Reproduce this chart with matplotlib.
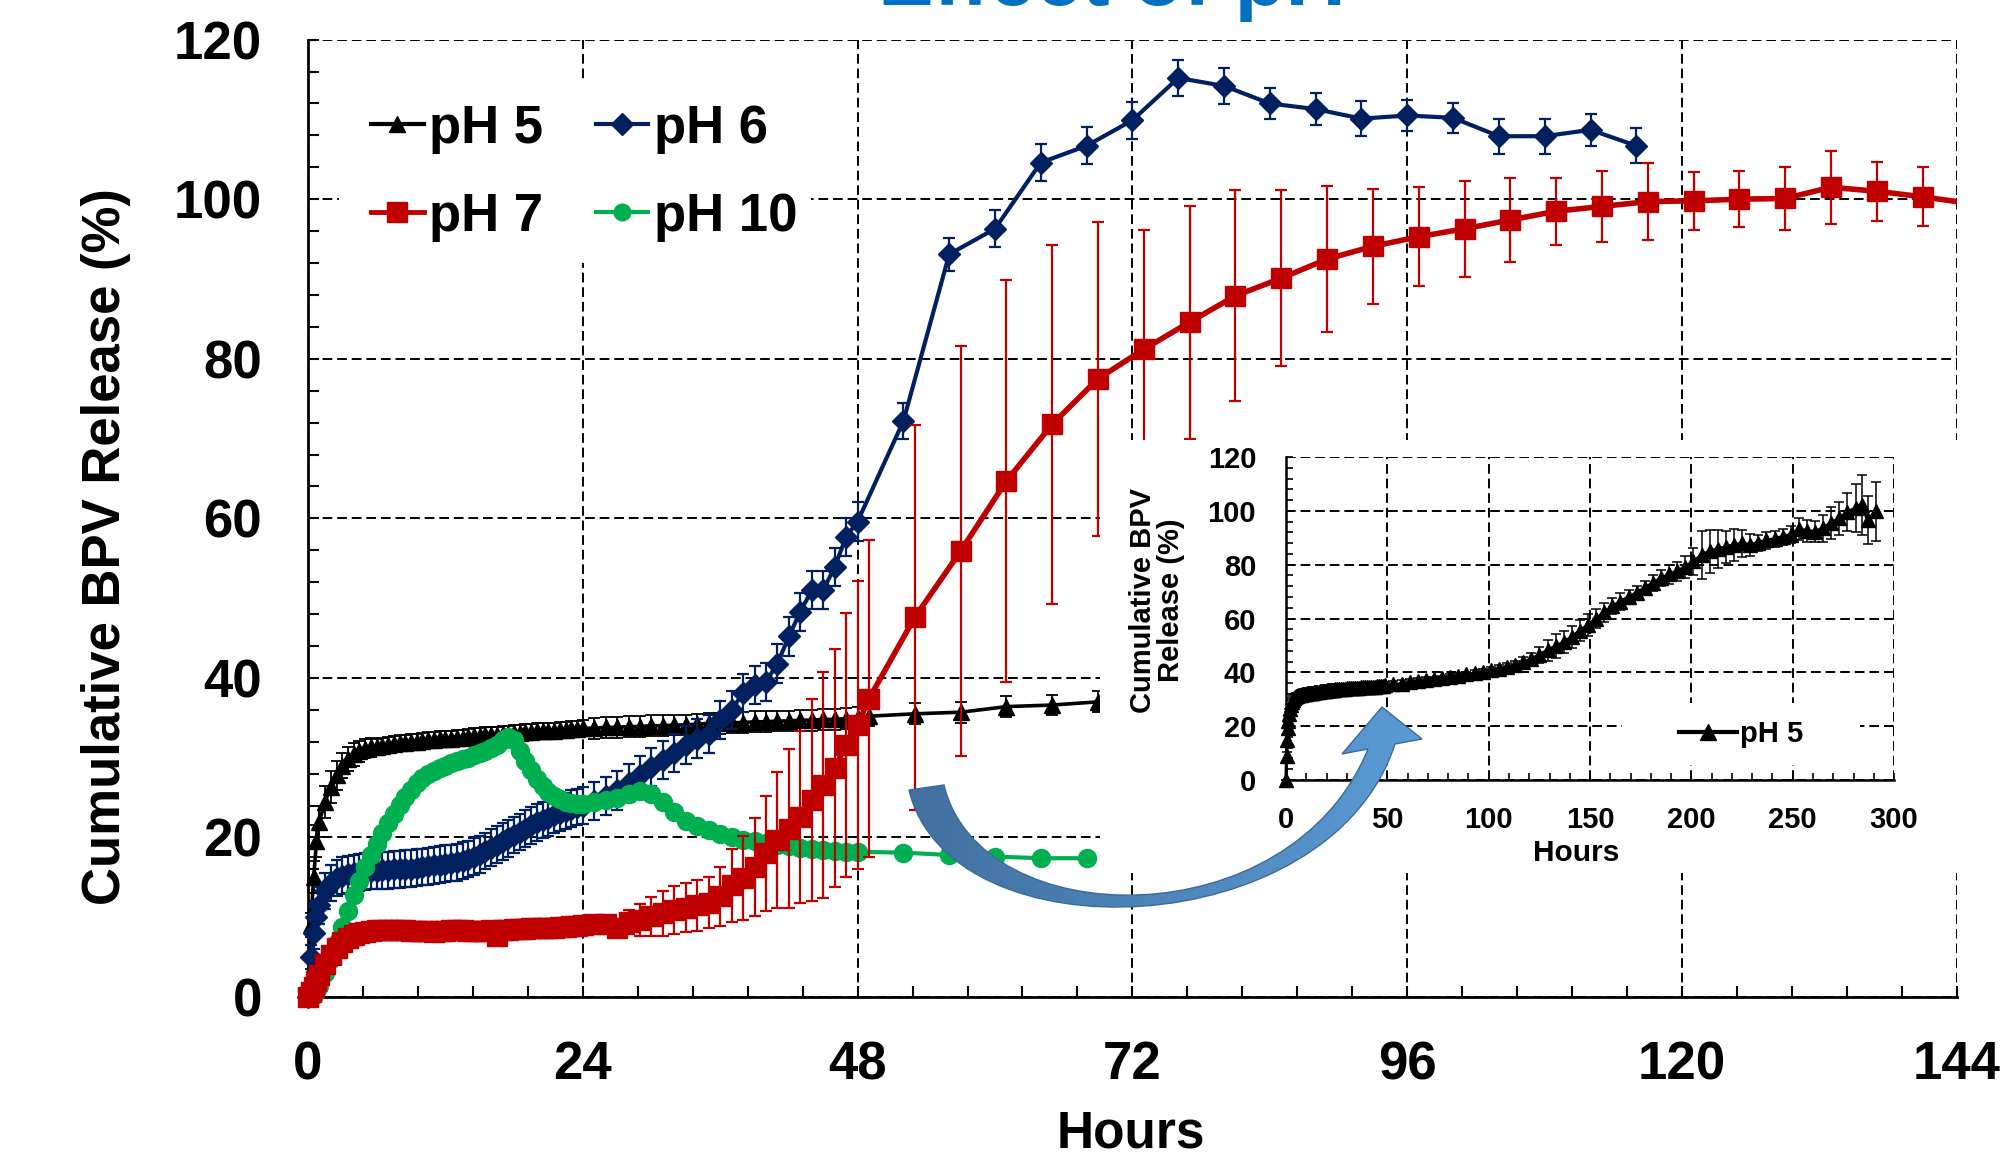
import numpy as np
import matplotlib
matplotlib.use('Agg')
import matplotlib.pyplot as plt
from matplotlib.lines import Line2D
from matplotlib.patches import Rectangle, PathPatch
from matplotlib.path import Path
from matplotlib.colors import LinearSegmentedColormap
from matplotlib.ticker import MultipleLocator

plt.rcParams['font.family'] = ['Liberation Sans', 'DejaVu Sans']
plt.rcParams['font.weight'] = 'bold'
plt.rcParams['axes.labelweight'] = 'bold'

# sampling times, 0-48 h (shared by all four runs)
hours = [0, 0.25, 0.5, 0.75,
         1, 1.5, 2, 2.5, 3, 3.5, 4, 4.5, 5, 5.5,
         6, 6.5, 7, 7.5, 8, 8.5, 9, 9.5, 10, 10.5,
         11, 11.5, 12, 12.5, 13, 13.5, 14, 14.5, 15, 15.5,
         16, 16.5, 17, 17.5, 18, 18.5, 19, 19.5, 20, 20.5,
         21, 21.5, 22, 22.5, 23, 23.5, 24,
         25, 26, 27, 28, 29, 30, 31, 32, 33, 34,
         35, 36, 37, 38, 39, 40, 41, 42, 43, 44,
         45, 46, 47, 48]

ph5 = [0, 9, 15, 19.5,
       22, 24.5, 26.3, 27.8, 29.0, 29.8, 30.4, 30.8, 31.1, 31.3,
       31.4, 31.5, 31.6, 31.7, 31.8, 31.9, 32.0, 32.0, 32.1, 32.2,
       32.2, 32.3, 32.4, 32.4, 32.5, 32.5, 32.6, 32.7, 32.7, 32.8,
       32.8, 32.9, 33.0, 33.0, 33.1, 33.1, 33.2, 33.2, 33.3, 33.3,
       33.4, 33.4, 33.5, 33.5, 33.6, 33.6, 33.7,
       33.7, 33.8, 33.8, 33.9, 33.9, 34.0, 34.0, 34.1, 34.1, 34.2,
       34.3, 34.3, 34.4, 34.4, 34.5, 34.5, 34.6, 34.6, 34.7, 34.7,
       34.8, 34.8, 34.9, 35.0]
ph5_err = [0, 1.5, 2, 2,
           2, 2, 2, 1.8, 1.6, 1.5, 1.4, 1.3, 1.2, 1.2,
           1.0, 1.0, 1.0, 1.0, 1.0, 1.0, 1.0, 1.0, 1.0, 1.0,
           1.0, 1.0, 1.0, 1.0, 1.0, 1.0, 1.0, 1.0, 1.0, 1.0,
           1.0, 1.0, 1.0, 1.0, 1.0, 1.0, 1.0, 1.0, 1.0, 1.0,
           1.0, 1.0, 1.0, 1.0, 1.0, 1.0, 1.0,
           1.3, 1.3, 1.3, 1.3, 1.3, 1.3, 1.3, 1.3, 1.3, 1.3,
           1.3, 1.3, 1.3, 1.3, 1.3, 1.3, 1.3, 1.3, 1.3, 1.3,
           1.3, 1.3, 1.3, 1.3]

ph6 = [0, 5, 8, 10,
       11.5, 13.3, 14.3, 14.9, 15.2, 15.4, 15.5, 15.6, 15.7, 15.8,
       15.8, 15.9, 15.9, 16.0, 16.0, 16.1, 16.1, 16.2, 16.3, 16.4,
       16.5, 16.6, 16.7, 16.8, 16.9, 17.1, 17.3, 17.6, 17.9, 18.3,
       18.7, 19.1, 19.5, 19.9, 20.3, 20.7, 21.1, 21.5, 21.9, 22.2,
       22.5, 22.8, 23.1, 23.3, 23.6, 23.8, 24.0,
       24.6, 25.2, 25.9, 26.8, 27.8, 28.8, 29.7, 30.6, 31.6, 32.4,
       33.0, 34.7, 36.0, 38.1, 39.1, 39.5, 41.8, 45.2, 48.3, 51.0,
       51.0, 53.9, 57.7, 59.6]
ph6_err = [0, 1.5, 2, 2,
           2.3, 2.3, 2.3, 2.3, 2.3, 2.3, 2.3, 2.3, 2.3, 2.3,
           2.3, 2.3, 2.3, 2.3, 2.3, 2.3, 2.3, 2.3, 2.3, 2.3,
           2.3, 2.3, 2.3, 2.3, 2.3, 2.3, 2.3, 2.3, 2.3, 2.3,
           2.3, 2.3, 2.3, 2.3, 2.3, 2.3, 2.3, 2.3, 2.3, 2.3,
           2.3, 2.3, 2.3, 2.3, 2.3, 2.3, 2.3,
           2.4, 2.4, 2.4, 2.4, 2.4, 2.4, 2.4, 2.4, 2.4, 2.4,
           2.4, 2.4, 2.4, 2.4, 2.4, 2.4, 2.4, 2.4, 2.4, 2.4,
           2.4, 2.4, 2.4, 2.4]

ph7 = [0, 0.6, 1.3, 2.0,
       2.8, 4.2, 5.3, 6.2, 6.9, 7.4, 7.8, 8.0, 8.2, 8.3,
       8.4, 8.4, 8.4, 8.4, 8.4, 8.4, 8.3, 8.3, 8.3, 8.3,
       8.2, 8.3, 8.3, 8.4, 8.4, 8.4, 8.3, 8.3, 8.3, 8.3,
       8.4, 7.6, 8.4, 8.4, 8.5, 8.5, 8.5, 8.6, 8.6, 8.6,
       8.7, 8.7, 8.8, 8.8, 8.9, 8.9, 9.0,
       9.1, 9.2, 8.6, 9.4, 9.7, 10.1, 10.5, 10.9, 11.2, 11.5,
       11.8, 12.6, 14.0, 14.9, 16.3, 18.0, 19.7, 21.1, 22.6, 24.7,
       26.6, 28.7, 31.6, 34.1]
ph7_err = [0, 0.4, 0.5, 0.5,
           0.6, 0.6, 0.6, 0.6, 0.6, 0.6, 0.6, 0.6, 0.6, 0.6,
           0.6, 0.6, 0.6, 0.6, 0.6, 0.6, 0.6, 0.6, 0.6, 0.6,
           0.6, 0.6, 0.6, 0.6, 0.6, 0.6, 0.6, 0.6, 0.6, 0.6,
           0.6, 0.6, 0.6, 0.6, 0.6, 0.6, 0.6, 0.6, 0.6, 0.6,
           0.6, 0.6, 0.6, 0.6, 0.6, 0.6, 0.6,
           0.8, 0.8, 1.0, 1.5, 2.0, 2.4, 2.8, 3.0, 3.1, 3.2,
           3.2, 3.75, 4.6, 5.3, 6.1, 7.2, 8.5, 10.0, 10.8, 12.7,
           14.2, 14.9, 16.5, 18.1]

ph10 = [0, 0, 0.3, 0.8,
        1.4, 3.0, 4.8, 6.8, 8.8, 10.8, 12.8, 14.6, 16.3, 17.8,
        19.2, 20.5, 21.8, 23.0, 24.1, 25.1, 26.0, 26.8, 27.4, 27.9,
        28.3, 28.7, 29.0, 29.3, 29.6, 29.8, 30.0, 30.3, 30.6, 30.9,
        31.2, 31.6, 32.2, 32.6, 32.2, 30.8, 29.6, 28.4, 27.3, 26.4,
        25.7, 25.2, 24.8, 24.5, 24.3, 24.2, 24.2,
        24.4, 24.7, 25.0, 25.4, 25.8, 25.5, 24.5, 23.2, 22.1, 21.4,
        20.9, 20.4, 20.0, 19.7, 19.5, 19.3, 19.1, 18.9, 18.7, 18.5,
        18.4, 18.3, 18.2, 18.2]

# later, sparser sampling
ph5_late_h = [49, 53, 57, 61, 65, 69]
ph5_late = [35.2, 35.5, 35.7, 36.4, 36.6, 37.0]
ph5_late_err = [1.2, 1.3, 1.3, 1.3, 1.3, 1.3]

ph6_late_h = [52, 56, 60, 64, 68, 72, 76, 80, 84, 88, 92, 96, 100, 104, 108, 112, 116]
ph6_late = [72.2, 93.1, 96.3, 104.6, 106.7, 109.9, 115.2, 114.2, 112.0, 111.3,
            110.1, 110.5, 110.2, 107.9, 107.9, 108.7, 106.7]
ph6_late_err = [2.2, 2.1, 2.3, 2.3, 2.3, 2.3, 2.2, 2.3, 2.0, 2.0,
                2.2, 2.0, 1.9, 2.2, 2.2, 2.0, 2.2]

ph7_late_h = [49, 53, 57, 61, 65, 69, 73, 77, 81, 85, 89, 93, 97, 101, 105,
              109, 113, 117, 121, 125, 129, 133, 137, 141, 145]
ph7_late = [37.4, 47.6, 55.9, 64.7, 71.8, 77.5, 81.2, 84.6, 87.9, 90.1, 92.5, 94.1,
            95.3, 96.3, 97.4, 98.5, 99.1, 99.7, 99.8, 100.0, 100.1, 101.5, 101.0,
            100.3, 99.5]
ph7_late_err = [19.9, 24.1, 25.7, 25.2, 22.5, 19.7, 15.0, 14.6, 13.2, 11.0, 9.2, 7.2,
                6.2, 6.0, 5.3, 4.2, 4.5, 4.8, 3.6, 3.5, 4.0, 4.6, 3.7, 3.7, 3.7]

ph10_late_h = [52, 56, 60, 64, 68]
ph10_late = [18.1, 17.8, 17.6, 17.4, 17.4]

# inset: pH 5 continued up to ~290 h
inset_h = [73, 77, 81, 85, 89, 93, 97, 101, 105, 109,
           113, 117, 121, 125, 129, 133, 137, 141, 145, 149,
           153, 157, 161, 165, 169, 173, 177, 181, 185, 189,
           193, 197, 201, 205, 209, 213, 217, 221, 225, 229,
           233, 237, 241, 245, 249, 253, 257, 261, 265, 269,
           273, 277, 281, 284, 287, 291]
inset_v = [37.4, 37.8, 38.3, 38.7, 39.2, 39.6, 40.1, 40.7, 41.3, 42.0,
           42.8, 43.7, 45.0, 46.5, 48.2, 49.7, 51.2, 53.2, 55.5, 57.6,
           60.0, 62.3, 64.5, 66.3, 68.0, 69.6, 71.4, 73.2, 75.0, 76.4,
           77.6, 79.2, 81.2, 83.6, 85.0, 85.9, 86.6, 87.4, 88.0, 87.4,
           88.2, 89.0, 89.6, 90.4, 91.2, 93.3, 92.6, 92.3, 93.6, 95.6,
           97.2, 99.6, 101.0, 102.2, 96.6, 99.8]
inset_err = [1.0, 1.0, 1.0, 1.0, 1.0, 1.2, 1.2, 1.3, 1.5, 1.5,
             1.5, 2.0, 2.0, 3.0, 4.0, 4.5, 4.0, 4.0, 4.0, 4.0,
             3.5, 3.5, 3.0, 3.0, 2.5, 2.5, 2.5, 3.0, 3.0, 3.5,
             3.5, 4.0, 5.0, 9.0, 8.0, 7.0, 6.0, 6.0, 5.0, 4.0,
             3.0, 3.0, 3.0, 3.0, 3.0, 4.0, 4.0, 4.0, 5.0, 6.0,
             6.0, 7.0, 9.0, 11.0, 9.0, 11.0]

C5, C6, C7, C10 = 'black', '#002060', '#C00000', '#00B050'
grid_ls = (0, (5, 2.5))

fig = plt.figure(figsize=(20.02, 11.6), dpi=100)
ax = fig.add_axes([0.1538, 0.1405, 0.8237, 0.8253])

ax.set_axisbelow(True)
ax.grid(True, which='major', color='black', linestyle=grid_ls, linewidth=1.4)

h5 = hours + ph5_late_h
ax.errorbar(h5, ph5 + ph5_late, yerr=ph5_err + ph5_late_err, color=C5, marker='^', ms=12,
            lw=2.6, capsize=4, elinewidth=1.3, capthick=1.3, zorder=3, clip_on=False)
h6 = hours + ph6_late_h
ax.errorbar(h6, ph6 + ph6_late, yerr=ph6_err + ph6_late_err, color=C6, marker='D', ms=11.5,
            lw=3.0, capsize=4.5, elinewidth=1.6, capthick=1.6, zorder=4, clip_on=False)
h10 = hours + ph10_late_h
ax.plot(h10, ph10 + ph10_late, color=C10, marker='o', ms=13, lw=3.0, zorder=5, clip_on=False)
h7 = hours + ph7_late_h
v7 = ph7 + ph7_late
e7 = ph7_err + ph7_late_err
ax.plot(h7, v7, color=C7, lw=4.0, zorder=6)
ax.errorbar(h7[:-1], v7[:-1], yerr=e7[:-1], color=C7, marker='s', ms=15, ls='none',
            capsize=4, elinewidth=1.6, capthick=1.6, zorder=6, clip_on=False)

ax.set_xlim(0, 144)
ax.set_ylim(0, 120)
ax.xaxis.set_major_locator(MultipleLocator(24))
ax.xaxis.set_minor_locator(MultipleLocator(4.8))
ax.yaxis.set_major_locator(MultipleLocator(20))
ax.yaxis.set_minor_locator(MultipleLocator(4))
ax.tick_params(which='both', direction='in', length=8, width=1.5, top=False, right=False)
ax.tick_params(axis='x', which='major', labelsize=38, pad=31)
ax.tick_params(axis='y', which='major', labelsize=38, pad=33)
for s in ['top', 'right']:
    ax.spines[s].set_visible(False)
for s in ['left', 'bottom']:
    ax.spines[s].set_linewidth(2)

ax.set_xlabel('Hours', fontsize=37, fontweight='bold', va='center')
ax.xaxis.set_label_coords(0.4991, -0.143)
ax.set_ylabel('Cumulative BPV Release (%)', fontsize=38, fontweight='bold', va='center')
ax.yaxis.set_label_coords(-0.1225, 0.471)

# legend (white box hides the grid behind it)
ax.add_patch(Rectangle((2.7, 92.0), 41.2, 22.6, facecolor='white', edgecolor='none', zorder=1.5))
handles = [Line2D([], [], color=C5, marker='^', ms=12, lw=3),
           Line2D([], [], color=C7, marker='s', ms=15, lw=3.5),
           Line2D([], [], color=C6, marker='D', ms=11, lw=3),
           Line2D([], [], color=C10, marker='o', ms=12, lw=3)]
ax.legend(handles, ['pH 5', 'pH 7', 'pH 6', 'pH 10'], ncol=2, loc='upper left',
          bbox_to_anchor=(0.0285, 0.9494), frameon=False, fontsize=38, handlelength=1.0,
          handletextpad=0.1, columnspacing=1.0, labelspacing=0.72, borderpad=0.3,
          borderaxespad=0)

fig.text(0.5552, 0.9955, 'Effect of pH', fontsize=60, color='#0070C0', ha='center',
         va='baseline', fontweight='bold')

# white panel under the inset
fig.add_artist(Rectangle((0.5495, 0.2474), 0.4505, 0.3733, transform=fig.transFigure,
                         facecolor='white', edgecolor='none', zorder=2))

axi = fig.add_axes([0.6424, 0.3276, 0.3037, 0.2784], zorder=3)
axi.set_axisbelow(True)
axi.grid(True, which='major', color='black', linestyle=grid_ls, linewidth=1.4)
axi.add_patch(Rectangle((165.8, 5.6), 117.2, 23.0, facecolor='white', edgecolor='none', zorder=1.5))
axi.errorbar(h5 + inset_h, ph5 + ph5_late + inset_v, yerr=ph5_err + ph5_late_err + inset_err,
             color='black', marker='^', ms=10, lw=2.4, capsize=3.5, elinewidth=1.1, capthick=1.1,
             zorder=3, clip_on=False)
axi.set_xlim(0, 300)
axi.set_ylim(0, 120)
axi.xaxis.set_major_locator(MultipleLocator(50))
axi.xaxis.set_minor_locator(MultipleLocator(10))
axi.yaxis.set_major_locator(MultipleLocator(20))
axi.yaxis.set_minor_locator(MultipleLocator(4))
axi.tick_params(which='both', direction='in', length=5, width=1.2, top=False, right=False)
axi.tick_params(axis='x', which='major', labelsize=21, pad=19)
axi.tick_params(axis='y', which='major', labelsize=21, pad=21.5)
for s in ['top', 'right']:
    axi.spines[s].set_visible(False)
for s in ['left', 'bottom']:
    axi.spines[s].set_linewidth(1.8)
axi.set_xlabel('Hours', fontsize=21.5, fontweight='bold', va='center')
axi.xaxis.set_label_coords(0.477, -0.226)
axi.set_ylabel('Cumulative BPV\nRelease (%)', fontsize=21, fontweight='bold', va='center',
               linespacing=1.0)
axi.yaxis.set_label_coords(-0.212, 0.557)
axi.legend([Line2D([], [], color='black', marker='^', ms=11, lw=3)], ['pH 5'], loc='center',
           bbox_to_anchor=(0.748, 0.142), frameon=False, fontsize=21, handlelength=2.0,
           handletextpad=0.1, borderaxespad=0)

# curved blue arrow pointing into the inset
ov = fig.add_axes([0, 0, 1, 1], zorder=5)
verts = [(909, 790), (950, 960), (1330, 945), (1395, 744),
         (1422, 739), (1382, 707), (1342, 754), (1368, 749),
         (1290, 940), (980, 935), (944, 785), (909, 790)]
codes = [Path.MOVETO, Path.CURVE4, Path.CURVE4, Path.CURVE4,
         Path.LINETO, Path.LINETO, Path.LINETO, Path.LINETO,
         Path.CURVE4, Path.CURVE4, Path.CURVE4, Path.CLOSEPOLY]
arrow = PathPatch(Path(verts, codes), facecolor='none', edgecolor='#3E6A9A', lw=1.0, zorder=6)
ov.add_patch(arrow)
cmap = LinearSegmentedColormap.from_list('arr', ['#41709F', '#5B9BD5'])
img = ov.imshow(np.linspace(0, 1, 256).reshape(1, -1), extent=[905, 1425, 965, 700],
                cmap=cmap, aspect='auto', zorder=5)
img.set_clip_path(arrow)
ov.set_xlim(0, 2002)
ov.set_ylim(1160, 0)
ov.axis('off')

fig.savefig('out.png', dpi=100)
